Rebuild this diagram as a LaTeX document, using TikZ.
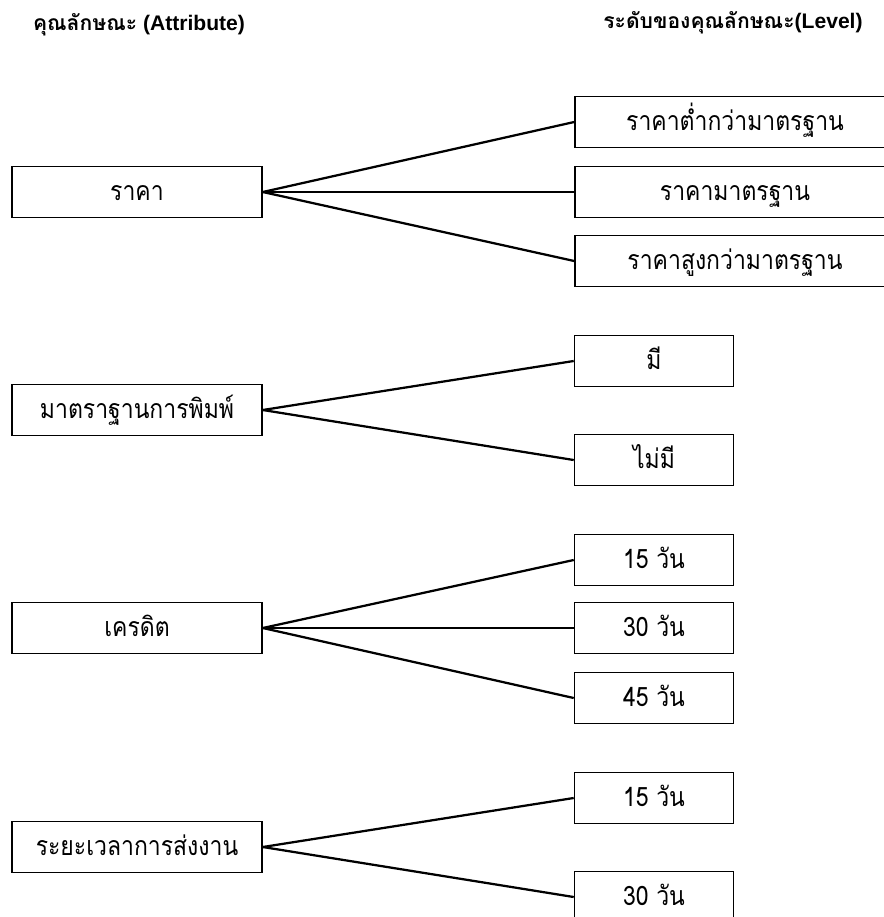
\documentclass[tikz,border=0pt]{standalone}
\usepackage{fontspec}
\setmainfont{Liberation Sans}
\newfontfamily\thai[Script=Thai]{Loma}
\newfontfamily\thaibox[Script=Thai,FakeStretch=0.86]{Loma}
\usepackage{tikz}

\begin{document}
\begin{tikzpicture}[x=0.025cm,y=-0.025cm,
  attr/.style={draw,line width=1.1pt,minimum width=6.25cm,minimum height=1.27cm,inner sep=0pt,text height=2.9ex,text depth=0.5ex,font=\thaibox\fontsize{19}{22}\selectfont},
  level/.style={attr,minimum width=3.975cm},
  wide/.style={attr,minimum width=8cm},
  link/.style={line width=1.6pt}]
\useasboundingbox (0,0) rectangle (884,917);

\node [font=\bfseries\fontsize{15}{18}\selectfont] (headattr) at (139,25) {{\thai คุณลักษณะ} (Attribute)};
\node [font=\bfseries\fontsize{15}{18}\selectfont] (headlevel) at (733,23) {{\thai ระดับของคุณลักษณะ}(Level)};

\node [attr] (price) at (137,192) {ราคา};
\node [wide] (pricelow) at (735,122) {ราคาต่ำกว่ามาตรฐาน};
\node [wide] (pricestd) at (735,192) {ราคามาตรฐาน};
\node [wide] (pricehigh) at (735,261) {ราคาสูงกว่ามาตรฐาน};
\draw [link] (price.east) -- (pricelow.west);
\draw [link] (price.east) -- (pricestd.west);
\draw [link] (price.east) -- (pricehigh.west);

\node [attr] (print) at (137,410) {มาตราฐานการพิมพ์};
\node [level] (printyes) at (654,361) {มี};
\node [level] (printno) at (654,460) {ไม่มี};
\draw [link] (print.east) -- (printyes.west);
\draw [link] (print.east) -- (printno.west);

\node [attr] (credit) at (137,628) {เครดิต};
\node [level] (credit15) at (654,560) {15 วัน};
\node [level] (credit30) at (654,628) {30 วัน};
\node [level] (credit45) at (654,698) {45 วัน};
\draw [link] (credit.east) -- (credit15.west);
\draw [link] (credit.east) -- (credit30.west);
\draw [link] (credit.east) -- (credit45.west);

\node [attr] (ship) at (137,847) {ระยะเวลาการส่งงาน};
\node [level] (ship15) at (654,798) {15 วัน};
\node [level] (ship30) at (654,897) {30 วัน};
\draw [link] (ship.east) -- (ship15.west);
\draw [link] (ship.east) -- (ship30.west);

\end{tikzpicture}
\end{document}
